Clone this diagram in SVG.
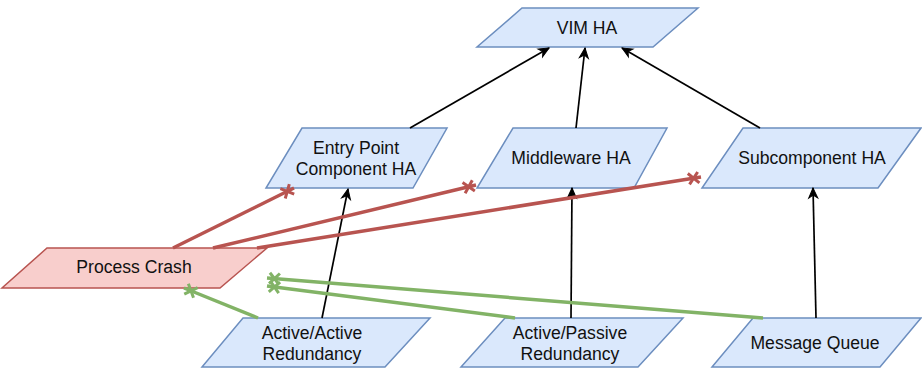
<svg xmlns="http://www.w3.org/2000/svg" width="922" height="369" viewBox="0 0 922 369">
  <style>
    .blue { fill: #dae8fc; stroke: #6c8ebf; stroke-width: 1.5; }
    .red { fill: #f8cecc; stroke: #b85450; stroke-width: 1.5; }
    .lbl { font-family: "Liberation Sans", Arial, Helvetica, sans-serif; font-size: 17.6px; fill: #111111; text-anchor: middle; }
    .blk { stroke: #000000; stroke-width: 1.7; fill: none; marker-end: url(#arrow); }
    .rl { stroke: #b85450; stroke-width: 3.5; fill: none; marker-end: url(#xred); }
    .gl { stroke: #82b366; stroke-width: 3.5; fill: none; marker-end: url(#xgreen); }
  </style>
  <defs>
    <marker id="arrow" markerUnits="userSpaceOnUse" viewBox="-12 -7 14 14" markerWidth="14" markerHeight="14" refX="0" refY="0" orient="auto" overflow="visible">
      <path d="M0,0 L-10,-4.5 L-7,0 L-10,4.5 Z" fill="#000000" stroke="#000000" stroke-width="1"/>
    </marker>
    <marker id="xred" markerUnits="userSpaceOnUse" viewBox="-16 -8 18 16" markerWidth="18" markerHeight="16" refX="0" refY="0" orient="auto" overflow="visible">
      <path d="M-12.5,-5.5 L-2.5,5.5 M-12.5,5.5 L-2.5,-5.5" stroke="#b85450" stroke-width="3" fill="none"/>
    </marker>
    <marker id="xgreen" markerUnits="userSpaceOnUse" viewBox="-16 -8 18 16" markerWidth="18" markerHeight="16" refX="0" refY="0" orient="auto" overflow="visible">
      <path d="M-12.5,-5.5 L-2.5,5.5 M-12.5,5.5 L-2.5,-5.5" stroke="#82b366" stroke-width="3" fill="none"/>
    </marker>
  </defs>

  <g id="vim-ha">
    <polygon class="blue" points="522,8 698,8 653,47 477,47"/>
    <text class="lbl" x="587" y="34">VIM HA</text>
  </g>
  <g id="entry-point-ha">
    <polygon class="blue" points="302,128 447,128 413,188 266,188"/>
    <text class="lbl" x="356" y="154">Entry Point</text>
    <text class="lbl" x="356" y="175">Component HA</text>
  </g>
  <g id="middleware-ha">
    <polygon class="blue" points="513,128 667,128 634,188 477,188"/>
    <text class="lbl" x="571" y="164">Middleware HA</text>
  </g>
  <g id="subcomponent-ha">
    <polygon class="blue" points="743,128 921,128 878,188 702,188"/>
    <text class="lbl" x="812" y="164">Subcomponent HA</text>
  </g>
  <g id="process-crash">
    <polygon class="red" points="47,248 267,248 220,288 2,288"/>
    <text class="lbl" x="134" y="273">Process Crash</text>
  </g>
  <g id="active-active">
    <polygon class="blue" points="243,318 430,318 385,367 202,367"/>
    <text class="lbl" x="312" y="339">Active/Active</text>
    <text class="lbl" x="312" y="360">Redundancy</text>
  </g>
  <g id="active-passive">
    <polygon class="blue" points="505,318 683,318 638,367 461,367"/>
    <text class="lbl" x="570" y="339">Active/Passive</text>
    <text class="lbl" x="570" y="360">Redundancy</text>
  </g>
  <g id="message-queue">
    <polygon class="blue" points="753,318 921,318 880,367 712,367"/>
    <text class="lbl" x="815" y="349">Message Queue</text>
  </g>

  <g id="connectors">
    <line class="blk" x1="410" y1="128" x2="549" y2="48"/>
    <line class="blk" x1="576" y1="128" x2="585" y2="48"/>
    <line class="blk" x1="760" y1="128" x2="622" y2="48"/>
    <line class="blk" x1="322" y1="318" x2="348" y2="189"/>
    <line class="blk" x1="571" y1="318" x2="572" y2="188"/>
    <line class="blk" x1="816" y1="318" x2="813" y2="188"/>

    <line class="rl" x1="173" y1="248" x2="294" y2="188"/>
    <line class="rl" x1="213" y1="248" x2="476" y2="185"/>
    <line class="rl" x1="257" y1="248" x2="701" y2="177"/>

    <line class="gl" x1="258" y1="318" x2="184" y2="288"/>
    <line class="gl" x1="515" y1="318" x2="267" y2="286"/>
    <line class="gl" x1="763" y1="318" x2="267" y2="278"/>
  </g>
</svg>
